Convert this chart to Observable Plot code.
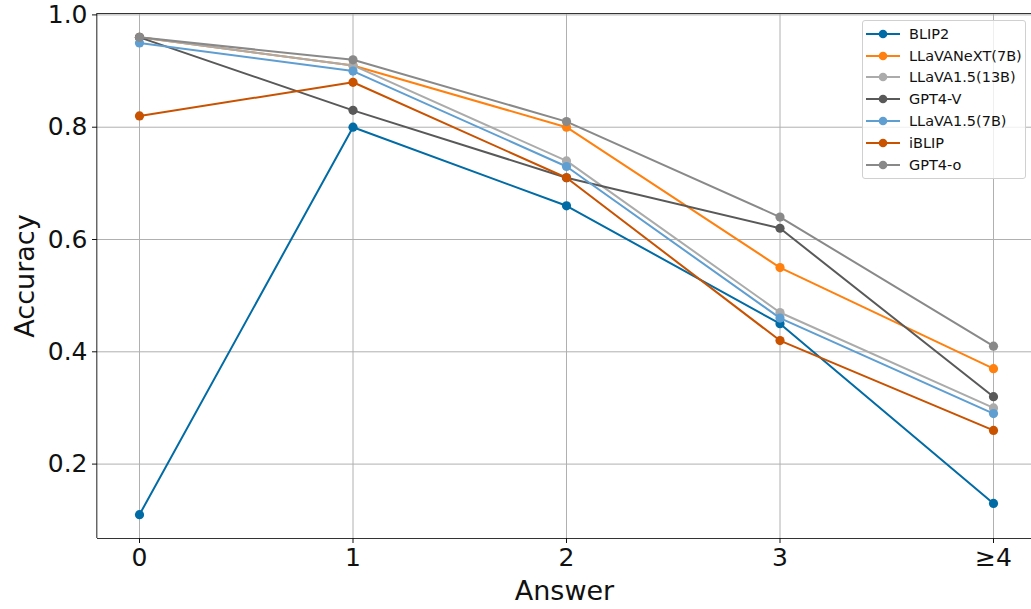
<!DOCTYPE html>
<html>
<head>
<meta charset="utf-8">
<script src="https://cdn.jsdelivr.net/npm/d3@7"></script>
<script src="https://cdn.jsdelivr.net/npm/@observablehq/plot@0.6"></script>
<style>
  html, body { margin: 0; padding: 0; background: #fff; }
  #wrap { position: relative; width: 1031px; height: 609px; font-family: "DejaVu Sans", sans-serif; }
  #legend {
    position: absolute; left: 862px; top: 20px; width: 164px; height: 159px;
    background: rgba(255,255,255,0.8); border: 1px solid #d0d0d0; border-radius: 3px;
    box-sizing: border-box; padding-top: 2px;
  }
  .row { display: flex; align-items: center; height: 21.8px; font-size: 14.5px; color: #111; }
  .row svg { margin-left: 2px; margin-right: 8px; }
</style>
</head>
<body>
<div id="wrap"></div>
<script>
const answers = [0, 1, 2, 3, 4];
const answerLabels = ["0", "1", "2", "3", "≥4"];
const yTicks = [0.2, 0.4, 0.6, 0.8, 1.0];

const seriesNames = ["BLIP2", "LLaVANeXT(7B)", "LLaVA1.5(13B)", "GPT4-V", "LLaVA1.5(7B)", "iBLIP", "GPT4-o"];
const seriesColors = ["#006BA4", "#FF800E", "#ABABAB", "#595959", "#5F9ED1", "#C85200", "#898989"];

const blip2      = [0.11, 0.80, 0.66, 0.45, 0.13];
const llavaNext7 = [0.96, 0.91, 0.80, 0.55, 0.37];
const llava13    = [0.96, 0.91, 0.74, 0.47, 0.30];
const gpt4v      = [0.96, 0.83, 0.71, 0.62, 0.32];
const llava7     = [0.95, 0.90, 0.73, 0.46, 0.29];
const iblip      = [0.82, 0.88, 0.71, 0.42, 0.26];
const gpt4o      = [0.96, 0.92, 0.81, 0.64, 0.41];

const seriesValues = [blip2, llavaNext7, llava13, gpt4v, llava7, iblip, gpt4o];

const xDomain = [-0.2, 4.2];
const yDomain = [0.0675, 1.0025];

const W = 1031, H = 609;
const mL = 97, mT = 13, mB = 71, mR = 0;

const seriesMarks = [];
seriesNames.forEach((name, si) => {
  const rows = answers.map((a, i) => ({answer: a, acc: seriesValues[si][i], series: name}));
  seriesMarks.push(Plot.line(rows, {x: "answer", y: "acc", stroke: seriesColors[si], strokeWidth: 2}));
  seriesMarks.push(Plot.dot(rows, {x: "answer", y: "acc", r: 4.6, fill: seriesColors[si], stroke: "none"}));
});

const chart = Plot.plot({
  width: W, height: H,
  marginLeft: mL, marginTop: mT, marginBottom: mB, marginRight: mR,
  style: {fontFamily: "DejaVu Sans, sans-serif", fontSize: "25px", background: "white", color: "#111", overflow: "visible"},
  x: {domain: xDomain, range: [96.3, 1035.7]},
  y: {domain: yDomain},
  marks: [
    Plot.gridX(answers, {stroke: "#b0b0b0", strokeOpacity: 1, strokeWidth: 1}),
    Plot.gridY(yTicks, {stroke: "#b0b0b0", strokeOpacity: 1, strokeWidth: 1}),
    ...seriesMarks,
    Plot.ruleX([xDomain[0]], {stroke: "#333", strokeWidth: 1.1}),
    Plot.ruleY([yDomain[0], yDomain[1]], {stroke: "#333", strokeWidth: 1.1}),
    Plot.axisX(answers, {tickFormat: d => answerLabels[answers.indexOf(d)], tickSize: 5, tickPadding: 5, fontSize: 25, label: null, stroke: "#111"}),
    Plot.axisY(yTicks, {tickFormat: d3.format(".1f"), tickSize: 5, tickPadding: 5, fontSize: 25, label: null, stroke: "#111"}),
    Plot.text(["Answer"], {frameAnchor: "bottom", lineAnchor: "middle", textAnchor: "middle", dy: 53, fontSize: 27, fill: "#111"}),
    Plot.text(["Accuracy"], {frameAnchor: "left", lineAnchor: "middle", textAnchor: "middle", rotate: -90, dx: -72, fontSize: 27, fill: "#111"})
  ]
});

const wrap = document.getElementById("wrap");
wrap.appendChild(chart);

const legend = document.createElement("div");
legend.id = "legend";
seriesNames.forEach((name, si) => {
  const row = document.createElement("div");
  row.className = "row";
  row.innerHTML = `<svg width="36" height="12"><line x1="1" x2="35" y1="6" y2="6" stroke="${seriesColors[si]}" stroke-width="2"/><circle cx="18" cy="6" r="4.3" fill="${seriesColors[si]}"/></svg><span>${name}</span>`;
  legend.appendChild(row);
});
wrap.appendChild(legend);
</script>
</body>
</html>
